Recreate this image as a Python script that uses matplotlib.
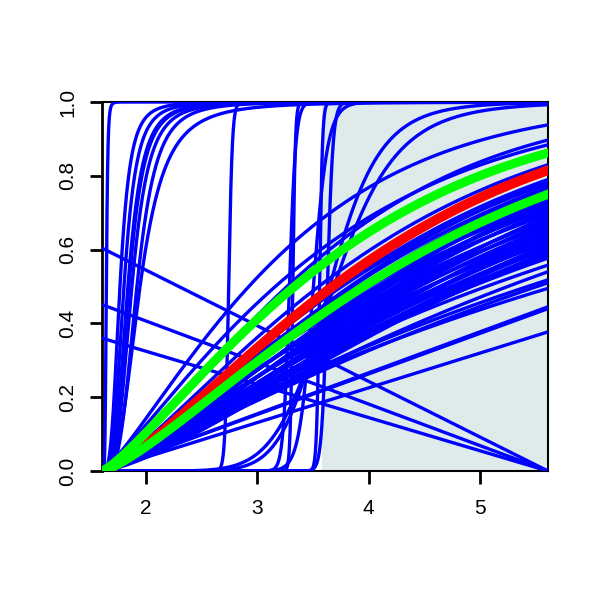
import numpy as np
import matplotlib.pyplot as plt

plt.rcParams['font.family'] = ['Liberation Sans', 'DejaVu Sans']

# x range of the curves and start of the shaded band
x_lo, x_hi = 1.609, 5.609
shade_from = 3.586

# gentle blue curves: value reached at the right edge, and curve shape
blue_end = [0.938, 0.897, 0.884, 0.83, 0.79, 0.784, 0.778, 0.77, 0.765,
            0.745, 0.74, 0.735, 0.73, 0.725, 0.72, 0.715, 0.71, 0.705,
            0.70, 0.695, 0.69, 0.685, 0.68, 0.675, 0.67, 0.665, 0.66,
            0.655, 0.65, 0.645, 0.64, 0.635, 0.63, 0.625, 0.62, 0.615,
            0.61, 0.605, 0.60, 0.595, 0.59, 0.585,
            0.577, 0.558, 0.54, 0.518, 0.51, 0.495]
blue_shape = [1.25, 1.35, 1.2, 1.3, 1.3, 1.35, 1.25, 1.3, 1.35,
              1.3, 1.2, 1.35, 1.25, 1.4, 1.15, 1.3, 1.2, 1.35,
              1.25, 1.15, 1.4, 1.3, 1.2, 1.35, 1.25, 1.15, 1.3,
              1.4, 1.2, 1.3, 1.25, 1.35, 1.15, 1.3, 1.2, 1.4,
              1.25, 1.3, 1.15, 1.35, 1.2, 1.25,
              1.15, 1.1, 1.2, 1.1, 1.15, 1.05]

# straight lines rising from the origin (value at right edge)
rise_end = [0.445, 0.44, 0.377]
# straight lines falling to zero at the right edge (value at left edge)
fall_start = [0.604, 0.451, 0.36]

# steep s-shaped curves: x where they cross 0.5, and steepness
steep_mid = [1.648, 1.770, 1.806, 1.841, 1.850, 1.877, 1.922, 1.95,
             2.745, 3.29, 3.32, 3.505, 3.56, 3.63, 3.65, 3.69]
steep_slope = [6, 3.5, 3.5, 3.5, 3.5, 3.5, 3.6, 3.0,
               70, 60, 150, 30, 150, 80, 9.2, 7.5]

# fitted curve (red) and its band (green)
red_end, red_shape = 0.815, 1.35
green_end = [0.862, 0.75]
green_shape = [1.25, 1.3]


def weib(x, v, k):
    t = (x - x_lo) / (x_hi - x_lo)
    return 1 - (1 - v) ** (t ** k)


def loglog(x, m, b):
    t = x - x_lo
    with np.errstate(divide='ignore', over='ignore'):
        return 1 / (1 + ((m - x_lo) / t) ** b)


x = np.linspace(x_lo, x_hi, 4000)

fig = plt.figure(figsize=(6, 6), dpi=100)
ax = fig.add_axes([0.17, 0.215, 0.7433, 0.615])

ax.axvspan(shade_from, x_hi + 1, color='#DFEBEB', lw=0, zorder=1)

blue = '#0000FF'
lw_b = 2.4
for v, k in zip(blue_end, blue_shape):
    ax.plot(x, weib(x, v, k), color=blue, lw=lw_b, zorder=3)
for v in rise_end:
    ax.plot([x_lo, x_hi], [0, v], color=blue, lw=lw_b, zorder=3)
for v in fall_start:
    ax.plot([x_lo, x_hi], [v, 0], color=blue, lw=lw_b, zorder=3)
for m, b in zip(steep_mid, steep_slope):
    ax.plot(x, loglog(x, m, b), color=blue, lw=lw_b, zorder=3)

ax.plot(x, weib(x, red_end, red_shape), color='#FF0000', lw=7, zorder=4)
for v, k in zip(green_end, green_shape):
    ax.plot(x, weib(x, v, k), color='#00FF00', lw=6.5, zorder=5)

ax.set_xlim(x_lo, x_hi)
ax.set_ylim(0, 1)
ax.set_xticks([2, 3, 4, 5])
ax.set_yticks([0, 0.2, 0.4, 0.6, 0.8, 1.0])
ax.set_yticklabels(['0.0', '0.2', '0.4', '0.6', '0.8', '1.0'],
                   rotation=90, va='center')
ax.tick_params(axis='both', length=9, width=2, labelsize=15)
ax.tick_params(axis='x', pad=11)
ax.tick_params(axis='y', pad=9)
for s in ax.spines.values():
    s.set_linewidth(1.5)
ax.spines['left'].set_linewidth(2)

fig.savefig('out.png', dpi=100)
